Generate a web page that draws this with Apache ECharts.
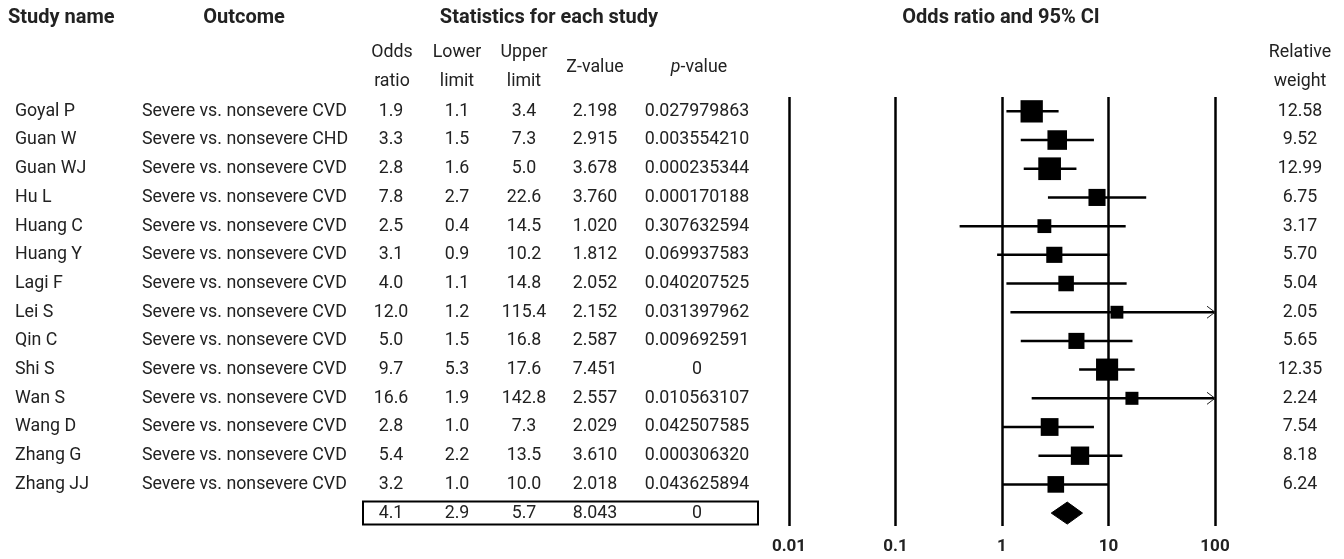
<!DOCTYPE html>
<html>
<head>
<meta charset="utf-8">
<script src="https://cdn.jsdelivr.net/npm/echarts@6/dist/echarts.min.js"></script>
<style>
html,body{margin:0;padding:0;background:#fff;}
#chart{width:1344px;height:559px;}
</style>
</head>
<body>
<div id="chart"></div>
<script>
// ---------- DATA ----------
const studies = ['Goyal P','Guan W','Guan WJ','Hu L','Huang C','Huang Y','Lagi F','Lei S','Qin C','Shi S','Wan S','Wang D','Zhang G','Zhang JJ'];
const outcomes = ['Severe vs. nonsevere CVD','Severe vs. nonsevere CHD','Severe vs. nonsevere CVD','Severe vs. nonsevere CVD','Severe vs. nonsevere CVD','Severe vs. nonsevere CVD','Severe vs. nonsevere CVD','Severe vs. nonsevere CVD','Severe vs. nonsevere CVD','Severe vs. nonsevere CVD','Severe vs. nonsevere CVD','Severe vs. nonsevere CVD','Severe vs. nonsevere CVD','Severe vs. nonsevere CVD'];
const oddsRatio = [1.9, 3.3, 2.8, 7.8, 2.5, 3.1, 4.0, 12.0, 5.0, 9.7, 16.6, 2.8, 5.4, 3.2];
const lowerLimit = [1.1, 1.5, 1.6, 2.7, 0.4, 0.9, 1.1, 1.2, 1.5, 5.3, 1.9, 1.0, 2.2, 1.0];
const upperLimit = [3.4, 7.3, 5.0, 22.6, 14.5, 10.2, 14.8, 115.4, 16.8, 17.6, 142.8, 7.3, 13.5, 10.0];
const zValues = ['2.198','2.915','3.678','3.760','1.020','1.812','2.052','2.152','2.587','7.451','2.557','2.029','3.610','2.018'];
const pValues = ['0.027979863','0.003554210','0.000235344','0.000170188','0.307632594','0.069937583','0.040207525','0.031397962','0.009692591','0','0.010563107','0.042507585','0.000306320','0.043625894'];
const relWeights = [12.58, 9.52, 12.99, 6.75, 3.17, 5.70, 5.04, 2.05, 5.65, 12.35, 2.24, 7.54, 8.18, 6.24];
const summaryOR = 4.1, summaryLower = 2.9, summaryUpper = 5.7, summaryZ = '8.043', summaryP = '0';
const axisTicks = [0.01, 0.1, 1, 10, 100];
const headerTop = ['Study name', 'Outcome', 'Statistics for each study', 'Odds ratio and 95% CI'];
const colHeaders = [['Odds','ratio'], ['Lower','limit'], ['Upper','limit'], ['Z-value'], ['{i|p}-value'], ['Relative','weight']];

// ---------- STYLE / LAYOUT ----------
const FONT = 'Roboto, "Noto Sans", sans-serif';
const TXT = '#222';
const BODY = 17.8;
const HEAD = 20;
const colX = { name: 15, outcome: 142, or: 391, lo: 457, up: 524, z: 595, p: 697, w: 1300 };
const headColX = [392, 457, 524, 595, 699, 1300];
const summaryRow = studies.length;

function txt(text, x, y, align, opts) {
  return {
    type: 'text',
    style: Object.assign({
      text: text, x: x, y: y, align: align || 'center', verticalAlign: 'middle',
      fill: TXT, fontSize: BODY, fontFamily: FONT
    }, opts || {})
  };
}

const chart = echarts.init(document.getElementById('chart'), null, {renderer: 'canvas'});

const headerGraphics = [
  txt(headerTop[0], 8, 18, 'left', {fontSize: HEAD, fontWeight: 'bold'}),
  txt(headerTop[1], 244, 18, 'center', {fontSize: HEAD, fontWeight: 'bold'}),
  txt(headerTop[2], 549, 18, 'center', {fontSize: HEAD, fontWeight: 'bold'}),
  txt(headerTop[3], 1001, 18, 'center', {fontSize: HEAD, fontWeight: 'bold'})
];
colHeaders.forEach((h, k) => {
  if (h.length === 2) {
    headerGraphics.push(txt(h[0], headColX[k], 53, 'center'));
    headerGraphics.push(txt(h[1], headColX[k], 82, 'center'));
  } else {
    const t = txt(h[0], headColX[k], 68, 'center');
    t.style.rich = { i: { fontStyle: 'italic', fontSize: BODY, fontFamily: FONT, fill: TXT } };
    headerGraphics.push(t);
  }
});

const tableData = studies.map((s, i) => [1, i]);
tableData.push([1, summaryRow]);

const option = {
  animation: false,
  backgroundColor: '#fff',
  grid: { left: 789, right: 129, top: 97, bottom: 33, containLabel: false },
  xAxis: {
    type: 'log', logBase: 10, min: axisTicks[0], max: axisTicks[axisTicks.length - 1],
    axisLine: { show: false }, axisTick: { show: false },
    splitLine: { show: true, lineStyle: { color: '#000', width: 2.5 } },
    axisLabel: {
      margin: 12, color: TXT, fontSize: 17, fontWeight: 'bold', fontFamily: FONT,
      formatter: v => { const m = axisTicks.find(t => Math.abs(Math.log10(t) - Math.log10(v)) < 1e-6); return m !== undefined ? String(m) : ''; }
    }
  },
  yAxis: { type: 'value', inverse: true, min: -0.5, max: 14.45, show: false, splitLine: { show: false } },
  graphic: headerGraphics,
  series: [
    { // confidence interval whiskers
      type: 'custom', z: 3,
      data: studies.map((s, i) => [lowerLimit[i], upperLimit[i], i]),
      renderItem: function (params, api) {
        const lo = api.value(0), up = api.value(1), r = api.value(2);
        const maxV = axisTicks[axisTicks.length - 1];
        const p0 = api.coord([lo, r]);
        const p1 = api.coord([Math.min(up, maxV), r]);
        const children = [{
          type: 'line', shape: { x1: p0[0], y1: p0[1], x2: p1[0], y2: p1[1] },
          style: { stroke: '#000', lineWidth: 2.5 }
        }];
        if (up > maxV) {
          children.push({
            type: 'polyline',
            shape: { points: [[p1[0] - 8, p1[1] - 6], [p1[0], p1[1]], [p1[0] - 8, p1[1] + 6]] },
            style: { stroke: '#222', lineWidth: 1, fill: 'none' }
          });
        }
        return { type: 'group', children: children };
      }
    },
    { // point estimates
      type: 'scatter', z: 4, symbol: 'rect',
      data: studies.map((s, i) => [oddsRatio[i], i, relWeights[i]]),
      symbolSize: v => 11 + 0.9 * v[2],
      itemStyle: { color: '#000', opacity: 1 }
    },
    { // summary diamond
      type: 'custom', z: 4,
      data: [[summaryLower, summaryOR, summaryUpper, summaryRow]],
      renderItem: function (params, api) {
        const r = api.value(3);
        const a = api.coord([api.value(0), r]);
        const m = api.coord([api.value(1), r]);
        const b = api.coord([api.value(2), r]);
        return {
          type: 'polygon',
          shape: { points: [[a[0], a[1]], [m[0], m[1] - 11], [b[0], b[1]], [m[0], m[1] + 11]] },
          style: { fill: '#000', stroke: '#000', lineWidth: 1 }
        };
      }
    },
    { // table text
      type: 'custom', z: 5, clip: false, silent: true,
      data: tableData,
      renderItem: function (params, api) {
        const r = api.value(1);
        const y = api.coord([1, r])[1];
        if (r === summaryRow) {
          return { type: 'group', children: [
            { type: 'rect', shape: { x: 363, y: y - 11.5, width: 395, height: 23 }, style: { fill: 'none', stroke: '#000', lineWidth: 2 } },
            txt(summaryOR.toFixed(1), colX.or, y),
            txt(summaryLower.toFixed(1), colX.lo, y),
            txt(summaryUpper.toFixed(1), colX.up, y),
            txt(summaryZ, colX.z, y),
            txt(summaryP, colX.p, y)
          ]};
        }
        return { type: 'group', children: [
          txt(studies[r], colX.name, y, 'left'),
          txt(outcomes[r], colX.outcome, y, 'left'),
          txt(oddsRatio[r].toFixed(1), colX.or, y),
          txt(lowerLimit[r].toFixed(1), colX.lo, y),
          txt(upperLimit[r].toFixed(1), colX.up, y),
          txt(zValues[r], colX.z, y),
          txt(pValues[r], colX.p, y),
          txt(relWeights[r].toFixed(2), colX.w, y)
        ]};
      }
    }
  ]
};
chart.setOption(option);
</script>
</body>
</html>
